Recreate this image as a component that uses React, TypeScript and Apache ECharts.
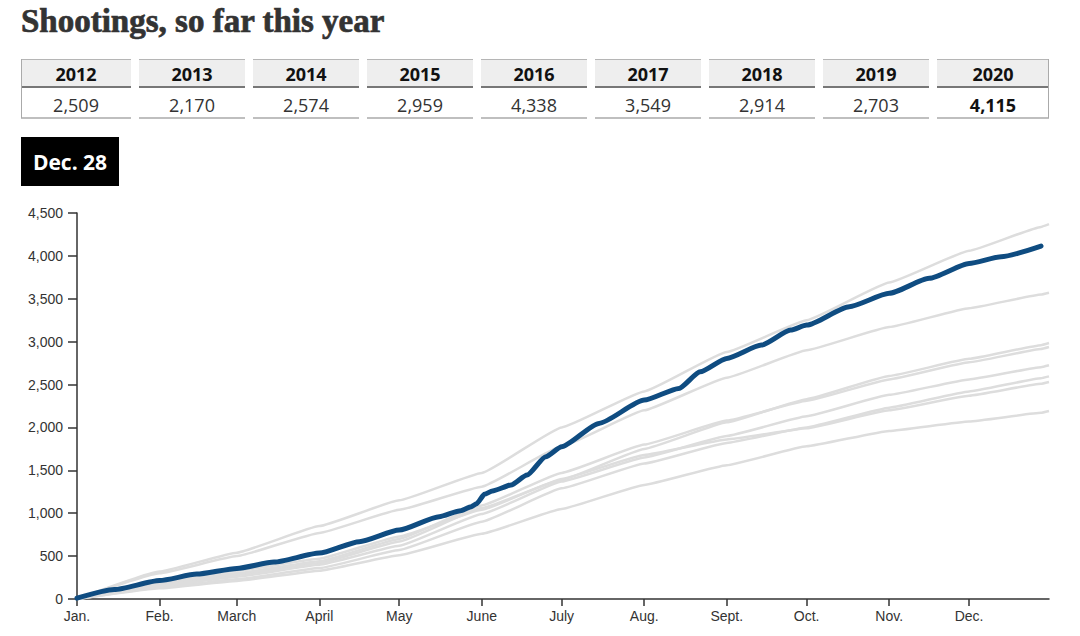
import React, { useEffect, useRef } from "react";
import * as echarts from "echarts";

const TITLE = "Shootings, so far this year";
const YEARS = ["2012", "2013", "2014", "2015", "2016", "2017", "2018", "2019", "2020"];
const TOTALS = ["2,509", "2,170", "2,574", "2,959", "4,338", "3,549", "2,914", "2,703", "4,115"];
const DATE_LABEL = "Dec. 28";
const MONTH_LABELS = ["Jan.", "Feb.", "March", "April", "May", "June", "July", "Aug.", "Sept.", "Oct.", "Nov.", "Dec."];
const MONTH_STARTS = [0, 31, 60, 91, 121, 152, 182, 213, 244, 274, 305, 335];
const DAY_COUNT = 366;
const Y_MIN = 0;
const Y_MAX = 4500;
const Y_STEP = 500;

// day index of each reading for past years
const PAST_DAYS = [0, 31, 60, 91, 121, 152, 182, 213, 244, 274, 305, 335, 362, 365];
const V2012 = [0, 190, 330, 470, 730, 1040, 1400, 1680, 1860, 1990, 2200, 2370, 2509, 2530];
const V2013 = [0, 125, 210, 330, 510, 760, 1050, 1330, 1560, 1780, 1960, 2070, 2170, 2191];
const V2014 = [0, 135, 230, 360, 570, 900, 1290, 1580, 1820, 2000, 2230, 2420, 2574, 2595];
const V2015 = [0, 165, 280, 420, 670, 1060, 1390, 1750, 2060, 2330, 2600, 2800, 2959, 2984];
const V2016 = [0, 320, 540, 850, 1150, 1470, 2000, 2420, 2880, 3250, 3690, 4060, 4338, 4370];
const V2017 = [0, 300, 500, 770, 1040, 1310, 1780, 2200, 2580, 2900, 3170, 3390, 3549, 3570];
const V2018 = [0, 175, 300, 440, 700, 1090, 1470, 1800, 2080, 2310, 2560, 2760, 2914, 2937];
const V2019 = [0, 150, 260, 400, 620, 990, 1370, 1650, 1900, 2130, 2380, 2560, 2703, 2725];

const DAYS_2020 = [0, 14, 31, 45, 60, 74, 91, 106, 121, 136, 144, 148, 150, 153, 156, 163, 169, 176, 182, 196, 213, 226, 234, 244, 257, 268, 274, 290, 305, 320, 335, 347, 362];
const V2020 = [10, 110, 215, 290, 357, 430, 535, 668, 804, 960, 1030, 1076, 1110, 1220, 1260, 1329, 1445, 1659, 1776, 2047, 2319, 2455, 2649, 2805, 2960, 3135, 3193, 3407, 3563, 3738, 3912, 3990, 4115];

const PAST = [V2012, V2013, V2014, V2015, V2016, V2017, V2018, V2019];

const GRAY = "#dddddd";
const BLUE = "#0f4c81";
const AXIS = "#333333";

export default function App() {
  const ref = useRef<HTMLDivElement>(null);

  useEffect(() => {
    if (!ref.current) return;
    const chart = echarts.init(ref.current, undefined, { renderer: "svg" });

    const categories = Array.from({ length: DAY_COUNT }, (_, i) => String(i));
    const isMonthStart = (index: number) => MONTH_STARTS.indexOf(index) >= 0;

    const graphics: any[] = [];
    graphics.push({
      type: "text",
      x: 21,
      y: 21,
      style: {
        text: TITLE,
        font: 'bold 33px "Liberation Serif"',
        fill: "#333333",
        stroke: "#333333",
        lineWidth: 0.7,
        textAlign: "left",
        textVerticalAlign: "middle",
      },
    });

    // table
    const top = 59;
    const headH = 28;
    const bottom = 118;
    YEARS.forEach((yr, i) => {
      let left = 25 + 114 * i;
      let right = left + 106;
      if (i === 0) left = 21;
      if (i === YEARS.length - 1) right = 1049;
      const cx = (left + right) / 2;
      graphics.push({
        type: "rect",
        shape: { x: left, y: top, width: right - left, height: headH },
        style: { fill: "#eeeeee" },
      });
      graphics.push({
        type: "line",
        shape: { x1: left, y1: top + 0.5, x2: right, y2: top + 0.5 },
        style: { stroke: "#b5b5b5", lineWidth: 1 },
      });
      graphics.push({
        type: "line",
        shape: { x1: left, y1: top + headH, x2: right, y2: top + headH },
        style: { stroke: "#777777", lineWidth: 2 },
      });
      graphics.push({
        type: "line",
        shape: { x1: left, y1: bottom, x2: right, y2: bottom },
        style: { stroke: "#aaaaaa", lineWidth: 1.5 },
      });
      graphics.push({
        type: "text",
        x: cx,
        y: 74,
        style: {
          text: yr,
          font: 'bold 18px "Open Sans"',
          fill: "#111111",
          textAlign: "center",
          textVerticalAlign: "middle",
        },
      });
      graphics.push({
        type: "text",
        x: cx,
        y: 105,
        style: {
          text: TOTALS[i],
          font: (i === YEARS.length - 1 ? "bold " : "") + '18px "Open Sans"',
          fill: i === YEARS.length - 1 ? "#111111" : "#333333",
          textAlign: "center",
          textVerticalAlign: "middle",
        },
      });
    });
    graphics.push({
      type: "line",
      shape: { x1: 21.5, y1: top, x2: 21.5, y2: bottom },
      style: { stroke: "#aaaaaa", lineWidth: 1 },
    });
    graphics.push({
      type: "line",
      shape: { x1: 1048.5, y1: top, x2: 1048.5, y2: bottom },
      style: { stroke: "#aaaaaa", lineWidth: 1 },
    });

    // date box
    graphics.push({
      type: "rect",
      shape: { x: 21, y: 137, width: 98, height: 49 },
      style: { fill: "#000000" },
    });
    graphics.push({
      type: "text",
      x: 70,
      y: 161.5,
      style: {
        text: DATE_LABEL,
        font: 'bold 21px "Open Sans"',
        fill: "#ffffff",
        textAlign: "center",
        textVerticalAlign: "middle",
      },
    });

    const grayStyle = { color: GRAY, width: 2.5 };
    const series: any[] = PAST.map((vals, k) => ({
      type: "line",
      name: YEARS[k],
      data: PAST_DAYS.map((d, j) => [d, vals[j]]),
      showSymbol: false,
      smooth: 0.1,
      smoothMonotone: "x",
      lineStyle: grayStyle,
      itemStyle: { color: GRAY },
      silent: true,
      z: 2,
    }));
    series.push({
      type: "line",
      name: "2020",
      data: DAYS_2020.map((d, j) => [d, V2020[j]]),
      showSymbol: false,
      smooth: 0.2,
      smoothMonotone: "x",
      lineStyle: { color: BLUE, width: 5, cap: "round", join: "round" },
      itemStyle: { color: BLUE },
      silent: true,
      z: 3,
    });

    chart.setOption({
      animation: false,
      grid: { left: 77, right: 31, top: 213, bottom: 37, containLabel: false },
      xAxis: {
        type: "category",
        data: categories,
        boundaryGap: false,
        axisLine: { show: true, lineStyle: { color: AXIS, width: 1.5 } },
        axisTick: {
          show: true,
          interval: (index: number) => isMonthStart(index),
          length: 7,
          lineStyle: { color: AXIS, width: 1.5 },
        },
        axisLabel: {
          show: true,
          interval: (index: number) => isMonthStart(index),
          formatter: (_v: string, index: number) => {
            const k = MONTH_STARTS.indexOf(index);
            return k >= 0 ? MONTH_LABELS[k] : "";
          },
          margin: 10,
          color: AXIS,
          fontSize: 14,
          fontFamily: "Liberation Sans",
        },
        splitLine: { show: false },
      },
      yAxis: {
        type: "value",
        min: Y_MIN,
        max: Y_MAX,
        interval: Y_STEP,
        axisLine: { show: true, lineStyle: { color: AXIS, width: 1.5 } },
        axisTick: { show: true, length: 9, lineStyle: { color: AXIS, width: 1.5 } },
        axisLabel: {
          formatter: (v: number) => v.toLocaleString("en-US"),
          margin: 14,
          color: AXIS,
          fontSize: 14,
          fontFamily: "Liberation Sans",
        },
        splitLine: { show: false },
      },
      graphic: graphics,
      series,
    });

    return () => chart.dispose();
  }, []);

  return (
    <div
      ref={ref}
      style={{ position: "fixed", left: 0, top: 0, width: 1080, height: 636, background: "#ffffff" }}
    />
  );
}
